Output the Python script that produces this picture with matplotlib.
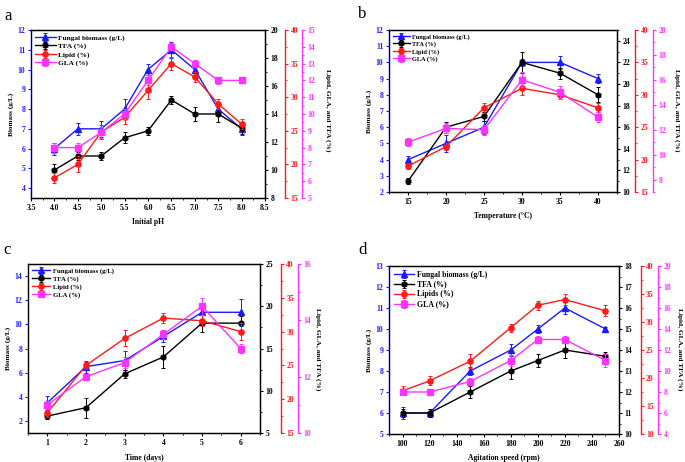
import numpy as np
import matplotlib
matplotlib.use('Agg')
import matplotlib.pyplot as plt
from matplotlib.ticker import MultipleLocator, AutoMinorLocator

plt.rcParams['font.family'] = ['Liberation Serif', 'DejaVu Serif']
plt.rcParams['font.weight'] = 'bold'

# panel a - initial pH
ph = [4.0, 4.5, 5.0, 5.5, 6.0, 6.5, 7.0, 7.5, 8.0]
a_bio = [6.0, 7.0, 7.0, 8.0, 10.0, 11.0, 10.0, 8.0, 7.0]
a_bio_err = [0.3, 0.3, 0.4, 0.5, 0.3, 0.4, 0.3, 0.3, 0.3]
a_tfa = [10.0, 11.0, 11.0, 12.3, 12.8, 15.0, 14.0, 14.0, 13.0]
a_tfa_err = [0.4, 0.3, 0.3, 0.4, 0.3, 0.3, 0.5, 0.6, 0.4]
a_lip = [18.0, 20.0, 24.8, 27.0, 31.0, 35.0, 33.0, 29.0, 26.0]
a_lip_err = [0.7, 1.2, 1.0, 1.0, 1.2, 1.0, 0.8, 0.8, 0.8]
a_gla = [8.0, 8.0, 8.9, 10.0, 12.0, 14.0, 13.0, 12.0, 12.0]
a_gla_err = [0.3, 0.3, 0.3, 0.3, 0.3, 0.2, 0.2, 0.2, 0.1]

# panel b - temperature
temp = [15, 20, 25, 30, 35, 40]
b_bio = [4.0, 5.0, 6.0, 10.0, 10.0, 9.0]
b_bio_err = [0.2, 0.5, 0.4, 0.2, 0.4, 0.3]
b_tfa = [11.0, 16.0, 17.0, 22.0, 21.0, 19.0]
b_tfa_err = [0.3, 0.5, 0.4, 1.0, 0.5, 0.7]
b_lip = [19.0, 22.0, 28.0, 31.0, 30.0, 28.0]
b_lip_err = [0.5, 0.5, 0.8, 1.0, 0.7, 0.7]
b_gla = [11.0, 12.1, 12.0, 16.0, 15.0, 13.0]
b_gla_err = [0.3, 0.4, 0.4, 0.6, 0.5, 0.4]

# panel c - time
days = [1, 2, 3, 4, 5, 6]
c_bio = [3.5, 6.5, 7.0, 9.0, 11.0, 11.0]
c_bio_err = [0.6, 0.5, 0.8, 0.5, 0.8, 1.1]
c_tfa = [7.0, 8.0, 12.0, 14.0, 18.0, 18.0]
c_tfa_err = [0.4, 1.2, 0.5, 1.3, 1.0, 0.8]
c_lip = [18.0, 25.0, 29.0, 32.0, 31.6, 30.0]
c_lip_err = [0.7, 0.5, 1.2, 0.8, 0.8, 1.2]
c_gla = [11.0, 12.0, 12.5, 13.5, 14.5, 13.0]
c_gla_err = [0.15, 0.1, 0.2, 0.15, 0.3, 0.15]

# panel d - agitation speed
rpm = [100, 120, 150, 180, 200, 220, 250]
d_bio = [6.0, 6.0, 8.0, 9.0, 10.0, 11.0, 10.0]
d_bio_err = [0.3, 0.2, 0.2, 0.3, 0.2, 0.3, 0.1]
d_tfa = [11.0, 11.0, 12.0, 13.0, 13.5, 14.0, 13.7]
d_tfa_err = [0.2, 0.2, 0.3, 0.4, 0.3, 0.4, 0.2]
d_lip = [17.7, 19.5, 23.0, 29.0, 33.0, 34.0, 32.0]
d_lip_err = [0.8, 0.8, 1.2, 0.7, 0.8, 1.0, 1.0]
d_gla = [8.0, 8.0, 9.0, 11.0, 13.0, 13.0, 11.0]
d_gla_err = [0.1, 0.3, 0.3, 0.5, 0.3, 0.3, 0.6]

FS = 5.5
BLUE = '#1a1aff'
RED = '#ff1a1a'
MAG = '#ff33ff'


def style_axis(ax, color, side, minor=True):
    ax.tick_params(axis='y', which='major', colors=color, labelsize=FS,
                   length=2.5, width=0.8, direction='out', pad=1.5)
    ax.tick_params(axis='y', which='minor', colors=color, length=1.5, width=0.6)
    if minor:
        ax.yaxis.set_minor_locator(AutoMinorLocator(2))
    ax.spines[side].set_color(color)
    ax.spines[side].set_linewidth(1.0)


def panel(fig, rect, x, series, lims, xlab, lipid_name, offs, legfs):
    ax = fig.add_axes(rect)
    t1 = ax.twinx()
    t2 = ax.twinx()
    t3 = ax.twinx()
    axes = [ax, t1, t2, t3]
    colors = [BLUE, 'black', RED, MAG]
    markers = ['^', 'h', 'o', 's']
    names = ['Fungal biomass (g/L)', 'TFA (%)', lipid_name, 'GLA (%)']
    handles = []
    for a, (y, e), c, m, n in zip(axes, series, colors, markers, names):
        h = a.errorbar(x, y, yerr=e, color=c, marker=m, markersize=3.8,
                       linewidth=1.0, elinewidth=0.7, capsize=1.6,
                       capthick=0.7, label=n)
        handles.append(h)

    for a in [t2, t3]:
        a.spines['top'].set_visible(False)
        a.spines['left'].set_visible(False)
        a.spines['bottom'].set_visible(False)
    t2.spines['right'].set_position(('outward', offs[0]))
    t3.spines['right'].set_position(('outward', offs[1]))

    (xl, xt), yls = lims[0], lims[1:]
    ax.set_xlim(*xl)
    ax.set_xticks(xt)
    for a, (yl, step) in zip(axes, yls):
        a.set_ylim(*yl)
        a.yaxis.set_major_locator(MultipleLocator(step))

    style_axis(ax, BLUE, 'left', minor=False)
    style_axis(t1, 'black', 'right')
    style_axis(t2, RED, 'right')
    style_axis(t3, MAG, 'right')
    for sp in ['top', 'bottom']:
        ax.spines[sp].set_linewidth(1.0)
    ax.xaxis.set_minor_locator(AutoMinorLocator(2))
    ax.tick_params(axis='x', which='major', labelsize=FS, length=2.5,
                   width=0.8, pad=1.5)
    ax.tick_params(axis='x', which='minor', length=1.5, width=0.6)

    for lab in ax.get_xticklabels() + [l for a in axes for l in a.get_yticklabels()]:
        lab.set_fontweight('bold')

    ax.set_xlabel(xlab, fontsize=FS, fontweight='bold', labelpad=5)
    ax.set_ylabel('Biomass (g/L)', fontsize=FS - 0.3, fontweight='bold', labelpad=3)

    t3.legend(handles, names, loc='upper left', frameon=False,
              handlelength=2.7, handletextpad=0.3,
              labelspacing=0.25, borderaxespad=0.2,
              prop={'weight': 'bold', 'size': legfs})
    return ax


fig = plt.figure(figsize=(6.85, 4.62), dpi=100)


def px(l, t, r, b):
    return [l / 685, 1 - b / 462, (r - l) / 685, (b - t) / 462]


panel(fig, px(31, 30, 265, 198), ph,
      [(a_bio, a_bio_err), (a_tfa, a_tfa_err), (a_lip, a_lip_err), (a_gla, a_gla_err)],
      [((3.5, 8.5), np.arange(3.5, 8.51, 0.5)),
       ((3.5, 12), 1), ((8, 20), 2), ((15, 40), 5), ((5, 15), 1)],
      'Initial pH', 'Lipid (%)', (14.5, 26.5), 5.35)

panel(fig, px(389, 30, 617, 192), temp,
      [(b_bio, b_bio_err), (b_tfa, b_tfa_err), (b_lip, b_lip_err), (b_gla, b_gla_err)],
      [((12.5, 42.5), [15, 20, 25, 30, 35, 40]),
       ((2, 12), 1), ((10, 25), 2), ((15, 40), 5), ((7, 20), 2)],
      'Temperature (\u00b0C)', 'Lipid (%)', (13, 26), 4.6)

panel(fig, px(28, 264, 260, 433), days,
      [(c_bio, c_bio_err), (c_tfa, c_tfa_err), (c_lip, c_lip_err), (c_gla, c_gla_err)],
      [((0.5, 6.5), [1, 2, 3, 4, 5, 6]),
       ((1, 15), 2), ((5, 25), 5), ((15, 40), 5), ((10, 16), 2)],
      'Time (days)', 'Lipid (%)', (15, 27), 4.9)

panel(fig, px(389, 266, 619, 434), rpm,
      [(d_bio, d_bio_err), (d_tfa, d_tfa_err), (d_lip, d_lip_err), (d_gla, d_gla_err)],
      [((90, 260), np.arange(100, 261, 20)),
       ((5, 13), 1), ((10, 18), 1), ((10, 40), 5), ((4, 20), 2)],
      'Agitation speed (rpm)', 'Lipids (%)', (15.5, 28), 5.55)

# panel letters
for lx, ly, s in [(4, 16, 'a'), (358, 14, 'b'), (3, 250, 'c'), (358, 250, 'd')]:
    fig.text(lx / 685, 1 - ly / 462, s, fontsize=12, fontweight='normal',
             va='center', ha='left')

# right-hand labels
for lx, ly in [(328, 110), (677, 110), (318, 349), (680, 349)]:
    fig.text(lx / 685, 1 - ly / 462, 'Lipid, GLA, and TFA (%)', rotation=270,
             fontsize=FS - 0.2, fontweight='bold', va='center', ha='center')

fig.savefig('out.png', dpi=100)
